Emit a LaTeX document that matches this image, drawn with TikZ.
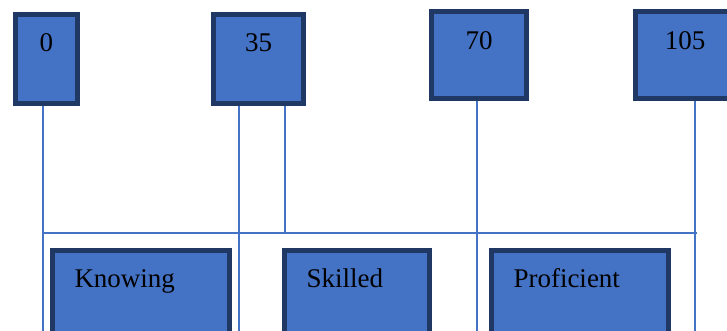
\documentclass[tikz,border=0pt]{standalone}
\usepackage{fontspec}
\setmainfont{Liberation Serif}
\usepackage{tikz}

\definecolor{boxblue}{HTML}{4472C4}
\definecolor{boxnavy}{HTML}{203864}

\begin{document}
\begin{tikzpicture}[x=1pt,y=-1pt,
  link/.style={draw=boxblue,line width=1.5pt},
  tbox/.style={draw=boxnavy,line width=5pt,fill=boxblue,inner sep=0pt,
    anchor=north west,align=center,font=\fontsize{27}{30}\selectfont},
  lbox/.style={draw=boxnavy,line width=5pt,fill=boxblue,inner xsep=22pt,inner ysep=0pt,
    anchor=north west,align=left,text height=36.5pt,text depth=60pt,
    font=\fontsize{27}{30}\selectfont}]
\path[use as bounding box,clip] (0,0) rectangle (727,331);
% score boxes
\node[tbox,text width=62pt,text height=37.5pt,text depth=51.5pt] (t0) at (13,12) {0};
\node[tbox,text width=90pt,text height=37.5pt,text depth=51.5pt] (t35) at (211,12) {35};
\node[tbox,text width=95pt,text height=38.5pt,text depth=48.5pt] (t70) at (429,9) {70};
\node[tbox,text width=99pt,text height=38.5pt,text depth=48.5pt] (t105) at (633,9) {105};
% level boxes
\node[lbox,text width=133pt] (knowing) at (50,248) {Knowing};
\node[lbox,text width=101pt] (skilled) at (282,248) {Skilled};
\node[lbox,text width=133pt] (proficient) at (489,248) {Proficient};
% lines
\foreach \n/\x in {t0/43,t35/239,t70/477,t105/695}
  {\coordinate (\n-end) at (\x,331);
   \draw[link] (\n.south -| \n-end) -- (\n-end);}
\coordinate (t35-mid) at (285,232);
\draw[link] (t35.south -| t35-mid) -- (t35-mid);
\coordinate (rail-l) at (43,233);
\coordinate (rail-r) at (697,233);
\draw[link] (rail-l) -- (rail-r);
\end{tikzpicture}
\end{document}
